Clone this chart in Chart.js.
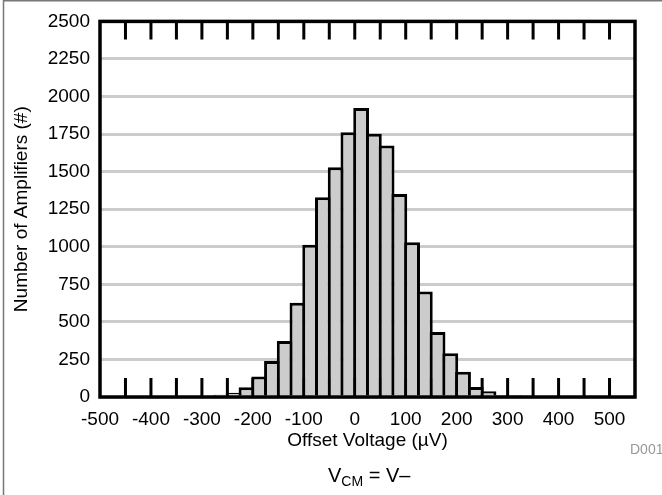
<!DOCTYPE html>
<html>
<head>
<meta charset="utf-8">
<script src="https://cdn.jsdelivr.net/npm/chart.js@4/dist/chart.umd.min.js"></script>
<style>
  html, body { margin: 0; padding: 0; background: #fff; }
  canvas { display: block; }
</style>
</head>
<body>
<canvas id="histo" width="662" height="495"></canvas>
<script>
// bin centres (uV), bins 25 uV wide
const binCenters = [-287.5, -262.5, -237.5, -212.5, -187.5, -162.5, -137.5, -112.5, -87.5, -62.5, -37.5, -12.5,
  12.5, 37.5, 62.5, 87.5, 112.5, 137.5, 162.5, 187.5, 212.5, 237.5, 262.5, 287.5, 312.5];
// number of amplifiers per bin
const counts = [8, 15, 28, 65, 137, 240, 373, 628, 1013, 1330, 1530, 1762,
  1924, 1752, 1674, 1352, 1030, 703, 433, 291, 168, 66, 38, 14, 5];

const xTickLabels = [-500, -400, -300, -200, -100, 0, 100, 200, 300, 400, 500];
const xMinorTicks = [-450, -400, -350, -300, -250, -200, -150, -100, -50, 0, 50, 100, 150, 200, 250, 300, 350, 400, 450, 500];
const yTickStep = 250;

const FONT = "'Liberation Sans', Arial, Helvetica, sans-serif";

// inward tick marks top and bottom (under the bars)
const tickMarks = {
  id: 'tickMarks',
  beforeDatasetsDraw(chart) {
    const { ctx, chartArea } = chart;
    const xs = chart.scales.x;
    ctx.save();
    ctx.strokeStyle = '#000';
    ctx.lineWidth = 3;
    xMinorTicks.forEach(v => {
      const px = xs.getPixelForValue(v);
      ctx.beginPath();
      ctx.moveTo(px, chartArea.bottom);
      ctx.lineTo(px, chartArea.bottom - 19);
      ctx.moveTo(px, chartArea.top);
      ctx.lineTo(px, chartArea.top + 18);
      ctx.stroke();
    });
    ctx.restore();
  }
};

// frame, titles and notes
const decorations = {
  id: 'decorations',
  afterDatasetsDraw(chart) {
    const { ctx, chartArea } = chart;
    ctx.save();
    ctx.strokeStyle = '#000';
    ctx.lineWidth = 3.5;
    ctx.strokeRect(chartArea.left, chartArea.top, chartArea.right - chartArea.left, chartArea.bottom - chartArea.top);

    // outer figure border (left + top)
    ctx.strokeStyle = '#777';
    ctx.lineWidth = 1.5;
    ctx.beginPath();
    ctx.moveTo(3.5, 495);
    ctx.lineTo(3.5, 0.75);
    ctx.lineTo(662, 0.75);
    ctx.stroke();

    ctx.fillStyle = '#000';
    ctx.textBaseline = 'middle';
    ctx.textAlign = 'center';
    ctx.font = '19px ' + FONT;
    ctx.fillText('Offset Voltage (µV)', (chartArea.left + chartArea.right) / 2, 441);

    ctx.save();
    ctx.translate(22, (chartArea.top + chartArea.bottom) / 2);
    ctx.rotate(-Math.PI / 2);
    ctx.fillText('Number of Amplifiers (#)', 0, 0);
    ctx.restore();

    // V_CM = V–
    ctx.textAlign = 'left';
    ctx.textBaseline = 'alphabetic';
    let x = 328;
    ctx.font = '20px ' + FONT;
    ctx.fillText('V', x, 482);
    x += ctx.measureText('V').width;
    ctx.font = '14px ' + FONT;
    ctx.fillText('CM', x, 486);
    x += ctx.measureText('CM').width;
    ctx.font = '20px ' + FONT;
    ctx.fillText(' = V–', x, 482);

    ctx.fillStyle = '#999';
    ctx.font = '14px ' + FONT;
    ctx.textBaseline = 'middle';
    ctx.fillText('D001', 630, 450);
    ctx.restore();
  }
};

new Chart(document.getElementById('histo'), {
  type: 'bar',
  data: {
    datasets: [{
      data: binCenters.map((c, i) => ({ x: c, y: counts[i] })),
      backgroundColor: '#cccccc',
      borderColor: '#000',
      borderWidth: 3,
      borderSkipped: 'bottom',
      // a little wider than the bin so neighbouring outlines overlap into one line
      barPercentage: 1.24,
      categoryPercentage: 1,
      inflateAmount: 0
    }]
  },
  options: {
    responsive: false,
    animation: false,
    devicePixelRatio: 1,
    layout: { padding: { left: 0, top: 20, right: 27, bottom: 0 } },
    plugins: { legend: { display: false }, tooltip: { enabled: false } },
    scales: {
      x: {
        type: 'linear',
        min: -500,
        max: 550,
        offset: false,
        grid: { display: false, drawTicks: false, offset: false },
        border: { display: false },
        afterBuildTicks: scale => { scale.ticks = xTickLabels.map(v => ({ value: v })); },
        afterFit: scale => { scale.height = 98; },
        ticks: {
          autoSkip: false,
          maxRotation: 0,
          padding: 11,
          color: '#000',
          font: { family: FONT, size: 19 }
        }
      },
      y: {
        min: 0,
        max: 2500,
        grid: { color: '#cccccc', lineWidth: 3, drawTicks: false },
        border: { display: false },
        afterFit: scale => { scale.width = 100; },
        ticks: {
          stepSize: yTickStep,
          padding: 10,
          color: '#000',
          font: { family: FONT, size: 19 },
          callback: v => String(v)
        }
      }
    }
  },
  plugins: [tickMarks, decorations]
});
</script>
</body>
</html>
